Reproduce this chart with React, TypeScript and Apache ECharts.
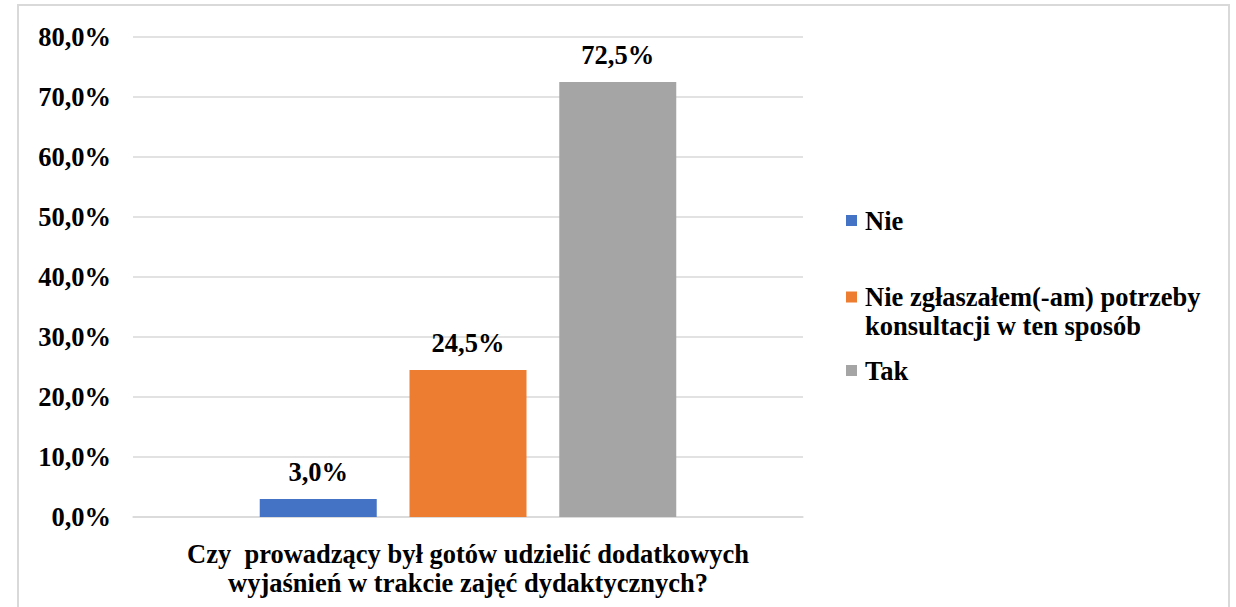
import React, { useEffect, useRef } from "react";
import * as echarts from "echarts";

const categories = ["Czy  prowadzący był gotów udzielić dodatkowych wyjaśnień w trakcie zajęć dydaktycznych?"];
const seriesNames = ["Nie", "Nie zgłaszałem(-am) potrzeby konsultacji w ten sposób", "Tak"];
const nieValues = [3.0];
const nieZglValues = [24.5];
const takValues = [72.5];
const yTicks = { min: 0, max: 80, interval: 10 };

const colors = ["#4472C4", "#ED7D31", "#A5A5A5"];
const FONT = "Liberation Serif";
const fmt = (v: number) => v.toFixed(1).replace(".", ",") + "%";

export default function App() {
  const ref = useRef<HTMLDivElement>(null);
  useEffect(() => {
    if (!ref.current) return;
    const chart = echarts.init(ref.current, null, { renderer: "svg" });
    const seriesData = [nieValues, nieZglValues, takValues];
    const legendTops = [206, 268, 356];
    const txt = { fontFamily: FONT, fontWeight: "bold", fontSize: 26.5, color: "#000" };
    const option: any = {
      animation: false,
      backgroundColor: "#ffffff",
      graphic: [
        {
          type: "rect",
          shape: { x: 18, y: 5, width: 1211, height: 640 },
          style: { fill: "none", stroke: "#d9d9d9", lineWidth: 2 },
          silent: true,
        },
      ],
      grid: { left: 133, right: 433, top: 37, bottom: 90, outerBoundsMode: "none" },
      legend: seriesNames.map((n, i) => ({
        data: [n],
        left: 846,
        top: legendTops[i],
        orient: "vertical",
        itemWidth: 11,
        itemHeight: 11,
        itemGap: 0,
        padding: 0,
        icon: "rect",
        selectedMode: false,
        formatter: (name: string) =>
          name.indexOf(" konsultacji") >= 0
            ? "{a|" + name.replace(" konsultacji", "}\n{b|konsultacji") + "}"
            : name,
        textStyle: {
          ...txt,
          lineHeight: 29,
          padding: [0, 0, 0, 3],
          rich: {
            a: { ...txt, lineHeight: 58 },
            b: { ...txt, lineHeight: 0.01 },
          },
        },
      })),
      xAxis: {
        type: "category",
        data: categories,
        axisLine: { lineStyle: { color: "#d9d9d9", width: 1.5 } },
        axisTick: { show: false },
        axisLabel: {
          ...txt,
          margin: 22,
          lineHeight: 29,
          formatter: (v: string) => v.replace(" wyjaśnień", "\nwyjaśnień"),
        },
      },
      yAxis: {
        type: "value",
        min: yTicks.min,
        max: yTicks.max,
        interval: yTicks.interval,
        axisLine: { show: false },
        axisTick: { show: false },
        splitLine: { lineStyle: { color: "#d9d9d9", width: 1.5 } },
        axisLabel: {
          ...txt,
          margin: 22,
          formatter: (v: number) => fmt(v),
        },
      },
      series: seriesNames.map((n, i) => ({
        name: n,
        type: "bar",
        data: seriesData[i],
        barWidth: 117,
        barGap: "28%",
        itemStyle: { color: colors[i] },
        label: {
          ...txt,
          show: true,
          position: "top",
          distance: 14,
          formatter: (p: any) => fmt(p.value),
        },
      })),
    };
    chart.setOption(option);
    return () => chart.dispose();
  }, []);
  return <div ref={ref} style={{ position: "fixed", left: 0, top: 0, width: 1236, height: 607 }} />;
}
